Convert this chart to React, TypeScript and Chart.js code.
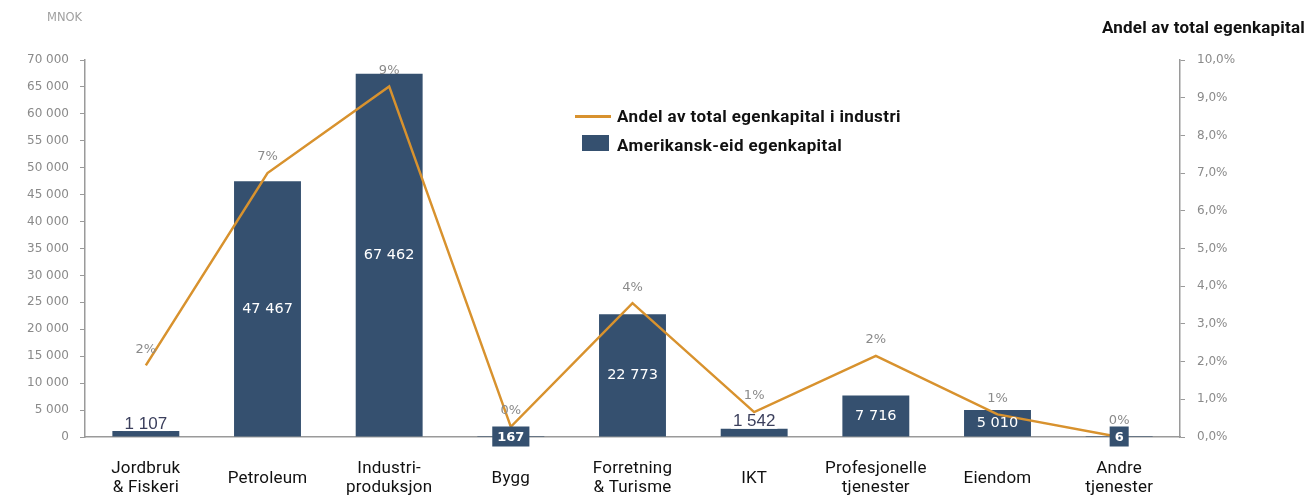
import React, { useEffect, useRef } from 'react';
import { Chart, registerables } from 'chart.js';

Chart.register(...registerables);

// ---------- data ----------
const categories: string[][] = [
  ['Jordbruk', '& Fiskeri'],
  ['Petroleum'],
  ['Industri-', 'produksjon'],
  ['Bygg'],
  ['Forretning', '& Turisme'],
  ['IKT'],
  ['Profesjonelle', 'tjenester'],
  ['Eiendom'],
  ['Andre', 'tjenester'],
];
const equityMNOK: number[] = [1107, 47467, 67462, 167, 22773, 1542, 7716, 5010, 6];
const sharePct: number[] = [1.9, 7.0, 9.3, 0.27, 3.55, 0.66, 2.15, 0.6, 0.0];
const seriesNames: string[] = ['Andel av total egenkapital i industri', 'Amerikansk-eid egenkapital'];
const leftAxisTitle = 'MNOK';
const rightAxisTitle = 'Andel av total egenkapital';
const leftMax = 70000;
const leftStep = 5000;
const rightMax = 10;
const rightStep = 1;

// ---------- styles ----------
const BAR_COLOR = '#35506f';
const LINE_COLOR = '#d8922e';
const TICK_COLOR = '#8a8a8a';
const AXIS_COLOR = '#9a9a9a';

const fmtThousands = (n: number) => String(n).replace(/\B(?=(\d{3})+(?!\d))/g, ' ');

const labelsPlugin = {
  id: 'customLabels',
  afterDatasetsDraw(chart: any) {
    const ctx = chart.ctx as CanvasRenderingContext2D;
    const lineMeta = chart.getDatasetMeta(0);
    const barMeta = chart.getDatasetMeta(1);
    ctx.save();
    ctx.textAlign = 'center';
    ctx.textBaseline = 'middle';

    // line labels
    ctx.font = '13px "DejaVu Sans"';
    ctx.fillStyle = TICK_COLOR;
    lineMeta.data.forEach((pt: any, i: number) => {
      ctx.fillText(Math.round(sharePct[i]) + '%', pt.x, pt.y - 16);
    });

    // bar labels
    barMeta.data.forEach((bar: any, i: number) => {
      const v = equityMNOK[i];
      const txt = fmtThousands(v);
      if (v >= 3000) {
        ctx.font = '14.5px "DejaVu Sans"';
        ctx.fillStyle = '#ffffff';
        ctx.fillText(txt, bar.x, (bar.y + bar.base) / 2);
      } else if (v >= 1000) {
        ctx.font = '17px "Liberation Sans"';
        const w = ctx.measureText(txt).width;
        const cy = bar.y - 7;
        ctx.fillStyle = '#ffffff';
        ctx.fillRect(bar.x - w / 2 - 2, cy - 8, w + 4, 15);
        ctx.fillStyle = '#3b3f5c';
        ctx.fillText(txt, bar.x, cy);
      } else {
        ctx.font = 'bold 13px "DejaVu Sans"';
        const w = ctx.measureText(txt).width;
        const cy = bar.base;
        ctx.fillStyle = BAR_COLOR;
        ctx.fillRect(bar.x - w / 2 - 5, cy - 10, w + 10, 20);
        ctx.fillStyle = '#ffffff';
        ctx.fillText(txt, bar.x, cy + 1);
      }
    });

    // category labels
    const xs = chart.scales.x;
    const bottom = chart.chartArea.bottom;
    ctx.font = '17px Roboto';
    (ctx as any).letterSpacing = '0.2px';
    ctx.fillStyle = '#111111';
    categories.forEach((lines, i) => {
      const x = xs.getPixelForValue(i);
      if (lines.length === 1) {
        ctx.fillText(lines[0], x, bottom + 42);
      } else {
        lines.forEach((ln, j) => ctx.fillText(ln, x, bottom + 32 + j * 19));
      }
    });
    ctx.restore();
  },
};

export default function App() {
  const canvasRef = useRef<HTMLCanvasElement | null>(null);

  useEffect(() => {
    document.body.style.margin = '0';
    document.documentElement.style.overflow = 'hidden';
    const canvas = canvasRef.current;
    if (!canvas) return;
    const chart = new Chart(canvas, {
      type: 'bar',
      data: {
        labels: categories.map((c) => c.join(' ')),
        datasets: [
          {
            type: 'line',
            label: seriesNames[0],
            data: sharePct,
            yAxisID: 'y1',
            borderColor: LINE_COLOR,
            backgroundColor: LINE_COLOR,
            borderWidth: 2.5,
            pointRadius: 0,
            tension: 0,
            order: 0,
          } as any,
          {
            type: 'bar',
            label: seriesNames[1],
            data: equityMNOK,
            yAxisID: 'y',
            backgroundColor: BAR_COLOR,
            barPercentage: 0.55,
            categoryPercentage: 1,
            order: 1,
          } as any,
        ],
      },
      options: {
        responsive: false,
        animation: false,
        maintainAspectRatio: false,
        layout: { padding: { top: 60, left: 0, right: 0, bottom: 0 } },
        plugins: { legend: { display: false }, tooltip: { enabled: false }, title: { display: false } },
        scales: {
          x: {
            grid: { display: false },
            border: { display: true, color: AXIS_COLOR, width: 1.5 },
            ticks: { display: false },
            afterFit: (s: any) => { s.height = 60; },
          },
          y: {
            position: 'left',
            min: 0,
            max: leftMax,
            ticks: {
              stepSize: leftStep,
              color: TICK_COLOR,
              font: { family: '"DejaVu Sans"', size: 12 },
              padding: 11,
              callback: (v: any) => fmtThousands(Number(v)),
            },
            grid: { drawOnChartArea: false, drawTicks: true, tickLength: 5, color: AXIS_COLOR },
            border: { display: true, color: AXIS_COLOR, width: 1.5 },
            afterFit: (s: any) => { s.width = 85; },
          },
          y1: {
            position: 'right',
            min: 0,
            max: rightMax,
            ticks: {
              stepSize: rightStep,
              color: TICK_COLOR,
              font: { family: '"DejaVu Sans"', size: 12 },
              padding: 12,
              callback: (v: any) => Number(v).toFixed(1).replace('.', ',') + '%',
            },
            grid: { drawOnChartArea: false, drawTicks: true, tickLength: 5, color: AXIS_COLOR },
            border: { display: true, color: AXIS_COLOR, width: 1.5 },
            afterFit: (s: any) => { s.width = 128; },
          },
        },
      } as any,
      plugins: [labelsPlugin],
    });
    return () => chart.destroy();
  }, []);

  const abs: React.CSSProperties = { position: 'absolute', whiteSpace: 'nowrap' };

  return (
    <div style={{ position: 'relative', width: 1308, height: 497, overflow: 'hidden', background: '#fff' }}>
      <canvas ref={canvasRef} width={1308} height={497} style={{ display: 'block', width: 1308, height: 497 }} />
      <div style={{ ...abs, left: 47, top: 11, font: '11.5px "DejaVu Sans"', lineHeight: '12px', color: '#a0a0a0' }}>{leftAxisTitle}</div>
      <div style={{ ...abs, right: 3, top: 17, font: 'bold 17px Roboto', letterSpacing: '0.2px', lineHeight: '20px', color: '#111' }}>{rightAxisTitle}</div>
      <div style={{ ...abs, left: 575, top: 115, width: 36, height: 3, background: LINE_COLOR }} />
      <div style={{ ...abs, left: 617, top: 106, font: 'bold 17px Roboto', letterSpacing: '0.4px', lineHeight: '20px', color: '#111' }}>{seriesNames[0]}</div>
      <div style={{ ...abs, left: 582, top: 135, width: 27, height: 16, background: BAR_COLOR }} />
      <div style={{ ...abs, left: 617, top: 135, font: 'bold 17px Roboto', letterSpacing: '0.4px', lineHeight: '20px', color: '#111' }}>{seriesNames[1]}</div>
    </div>
  );
}
